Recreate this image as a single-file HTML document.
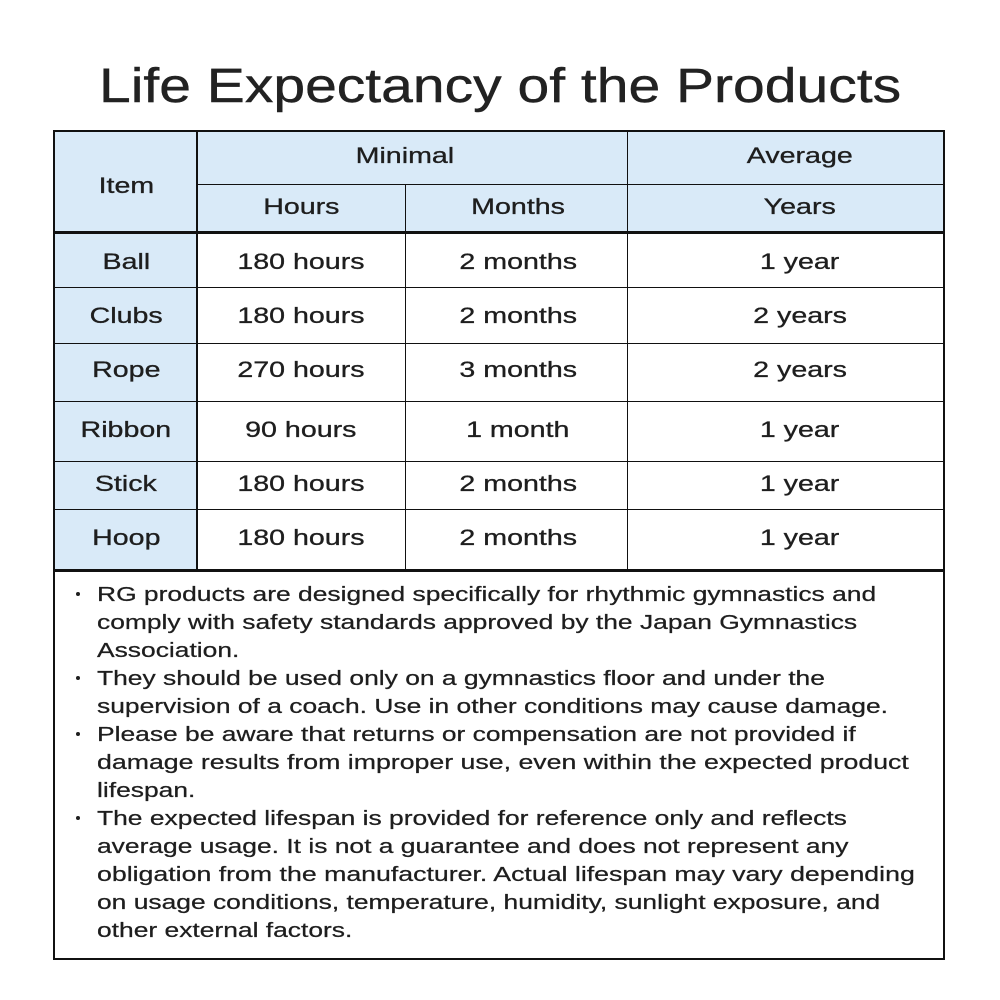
<!DOCTYPE html>
<html>
<head>
<meta charset="utf-8">
<style>
  html, body { margin:0; padding:0; }
  body { width:1000px; height:1000px; background:#ffffff; position:relative; overflow:hidden;
         font-family:"Liberation Sans", Arial, sans-serif; color:#1e1e1e; }
  .abs { position:absolute; }
  .ln { position:absolute; background:#111; }
  .t { position:absolute; font-size:22px; line-height:22px; height:22px; text-align:center; white-space:nowrap; -webkit-text-stroke:0.3px #1e1e1e; }
  .t span { display:inline-block; transform:scaleX(1.3); transform-origin:center; }
  .title { position:absolute; left:0; width:1000px; top:62px; font-size:48.5px; line-height:48.5px; text-align:center; white-space:nowrap; color:#222; -webkit-text-stroke:0.4px #222; }
  .title span { display:inline-block; transform:scaleX(1.176); transform-origin:center; }
  .notes { position:absolute; left:97px; top:581px; font-size:20px; line-height:28px; white-space:nowrap; -webkit-text-stroke:0.25px #1e1e1e; }
  .notes div { height:28px; transform:scaleX(1.32); transform-origin:left center; }
  .notes div.w { transform:scaleX(1.335); }
  .dot { position:absolute; width:4px; height:4px; border-radius:50%; background:#1e1e1e; left:76px; }
</style>
</head>
<body>
<div class="title"><span>Life Expectancy of the Products</span></div>

<!-- backgrounds -->
<div class="abs" style="left:55px;top:132px;width:888px;height:99px;background:#d9eaf8;"></div>
<div class="abs" style="left:55px;top:234px;width:141px;height:335px;background:#d9eaf8;"></div>

<!-- outer border -->
<div class="abs" style="left:53px;top:130px;width:892px;height:830px;border:2px solid #111;box-sizing:border-box;"></div>

<!-- horizontal lines -->
<div class="ln" style="left:198px;top:184px;width:745px;height:1px;"></div>
<div class="ln" style="left:55px;top:231px;width:888px;height:3px;"></div>
<div class="ln" style="left:55px;top:287px;width:888px;height:1px;"></div>
<div class="ln" style="left:55px;top:343px;width:888px;height:1px;"></div>
<div class="ln" style="left:55px;top:401px;width:888px;height:1px;"></div>
<div class="ln" style="left:55px;top:461px;width:888px;height:1px;"></div>
<div class="ln" style="left:55px;top:509px;width:888px;height:1px;"></div>
<div class="ln" style="left:55px;top:569px;width:888px;height:3px;"></div>

<!-- vertical lines -->
<div class="ln" style="left:196px;top:132px;width:2px;height:437px;"></div>
<div class="ln" style="left:405px;top:185px;width:1px;height:384px;"></div>
<div class="ln" style="left:627px;top:132px;width:1px;height:437px;"></div>

<!-- header text -->
<div class="t" style="left:26px;width:200px;top:175px;"><span>Item</span></div>
<div class="t" style="left:305px;width:200px;top:145px;"><span>Minimal</span></div>
<div class="t" style="left:700px;width:200px;top:145px;"><span>Average</span></div>
<div class="t" style="left:201px;width:200px;top:196px;"><span>Hours</span></div>
<div class="t" style="left:418px;width:200px;top:196px;"><span>Months</span></div>
<div class="t" style="left:700px;width:200px;top:196px;"><span>Years</span></div>

<!-- rows -->
<div class="t" style="left:26px;width:200px;top:251px;"><span>Ball</span></div>
<div class="t" style="left:201px;width:200px;top:251px;"><span>180 hours</span></div>
<div class="t" style="left:418px;width:200px;top:251px;"><span>2 months</span></div>
<div class="t" style="left:700px;width:200px;top:251px;"><span>1 year</span></div>

<div class="t" style="left:26px;width:200px;top:305px;"><span>Clubs</span></div>
<div class="t" style="left:201px;width:200px;top:305px;"><span>180 hours</span></div>
<div class="t" style="left:418px;width:200px;top:305px;"><span>2 months</span></div>
<div class="t" style="left:700px;width:200px;top:305px;"><span>2 years</span></div>

<div class="t" style="left:26px;width:200px;top:359px;"><span>Rope</span></div>
<div class="t" style="left:201px;width:200px;top:359px;"><span>270 hours</span></div>
<div class="t" style="left:418px;width:200px;top:359px;"><span>3 months</span></div>
<div class="t" style="left:700px;width:200px;top:359px;"><span>2 years</span></div>

<div class="t" style="left:26px;width:200px;top:419px;"><span>Ribbon</span></div>
<div class="t" style="left:201px;width:200px;top:419px;"><span>90 hours</span></div>
<div class="t" style="left:418px;width:200px;top:419px;"><span>1 month</span></div>
<div class="t" style="left:700px;width:200px;top:419px;"><span>1 year</span></div>

<div class="t" style="left:26px;width:200px;top:473px;"><span>Stick</span></div>
<div class="t" style="left:201px;width:200px;top:473px;"><span>180 hours</span></div>
<div class="t" style="left:418px;width:200px;top:473px;"><span>2 months</span></div>
<div class="t" style="left:700px;width:200px;top:473px;"><span>1 year</span></div>

<div class="t" style="left:26px;width:200px;top:527px;"><span>Hoop</span></div>
<div class="t" style="left:201px;width:200px;top:527px;"><span>180 hours</span></div>
<div class="t" style="left:418px;width:200px;top:527px;"><span>2 months</span></div>
<div class="t" style="left:700px;width:200px;top:527px;"><span>1 year</span></div>

<!-- bullet dots -->
<div class="dot" style="top:592px;"></div>
<div class="dot" style="top:676px;"></div>
<div class="dot" style="top:732px;"></div>
<div class="dot" style="top:816px;"></div>

<div class="notes">
  <div>RG products are designed specifically for rhythmic gymnastics and</div>
  <div>comply with safety standards approved by the Japan Gymnastics</div>
  <div>Association.</div>
  <div>They should be used only on a gymnastics floor and under the</div>
  <div>supervision of a coach. Use in other conditions may cause damage.</div>
  <div>Please be aware that returns or compensation are not provided if</div>
  <div class="w">damage results from improper use, even within the expected product</div>
  <div>lifespan.</div>
  <div>The expected lifespan is provided for reference only and reflects</div>
  <div>average usage. It is not a guarantee and does not represent any</div>
  <div class="w">obligation from the manufacturer. Actual lifespan may vary depending</div>
  <div>on usage conditions, temperature, humidity, sunlight exposure, and</div>
  <div>other external factors.</div>
</div>
</body>
</html>
